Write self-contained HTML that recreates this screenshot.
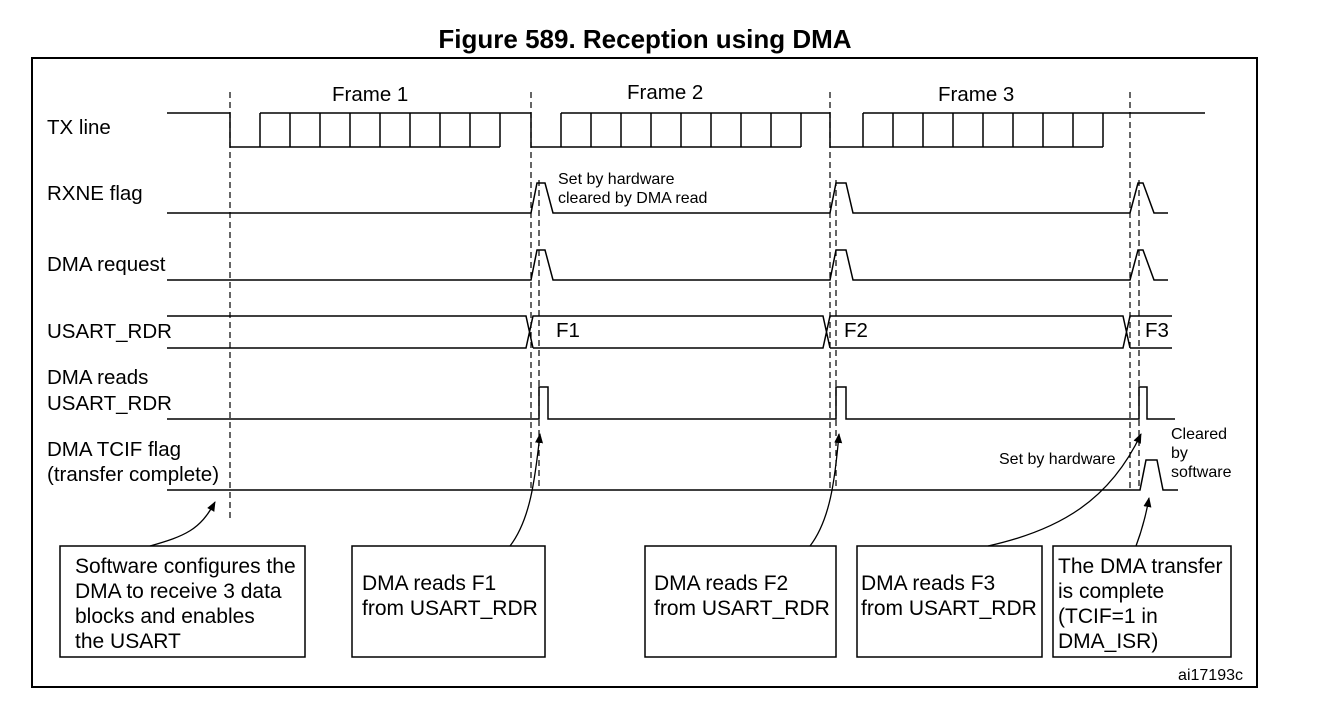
<!DOCTYPE html>
<html><head><meta charset="utf-8"><style>
body{margin:0;background:#fff;}
svg{display:block;font-family:"Liberation Sans",Arial,sans-serif;}
</style></head><body>
<svg width="1320" height="704" viewBox="0 0 1320 704" xmlns="http://www.w3.org/2000/svg">
<defs><marker id="ah" markerWidth="10" markerHeight="10" refX="9" refY="5" orient="auto" markerUnits="userSpaceOnUse"><path d="M0,1 L10,5 L0,9 z" fill="#000"/></marker></defs>
<text x="645" y="48" font-size="26" font-weight="bold" text-anchor="middle">Figure 589. Reception using DMA</text>
<rect x="32" y="58" width="1225" height="629" fill="none" stroke="#000" stroke-width="2"/>
<g font-size="20.5" fill="#000">
<text x="47" y="134">TX line</text>
<text x="47" y="200">RXNE flag</text>
<text x="47" y="271">DMA request</text>
<text x="47" y="338">USART_RDR</text>
<text x="47" y="384">DMA reads</text>
<text x="47" y="410">USART_RDR</text>
<text x="47" y="456">DMA TCIF flag</text>
<text x="47" y="481">(transfer complete)</text>
<text x="332" y="101">Frame 1</text>
<text x="627" y="99">Frame 2</text>
<text x="938" y="101">Frame 3</text>
<text x="556" y="337">F1</text>
<text x="844" y="337">F2</text>
<text x="1145" y="337">F3</text>
</g>
<g font-size="16">
<text x="558" y="184">Set by hardware</text>
<text x="558" y="203">cleared by DMA read</text>
<text x="999" y="464">Set by hardware</text>
<text x="1171" y="439">Cleared</text>
<text x="1171" y="458">by</text>
<text x="1171" y="477">software</text>
<text x="1243" y="680" text-anchor="end">ai17193c</text>
</g>
<g stroke="#000" stroke-width="1.5" fill="none">
<path d="M167,113 H230 V147 H500 M260,113 H531 V147 H801 M561,113 H830 V147 H1103 M863,113 H1205"/>
<path d="M260,113V147 M290,113V147 M320,113V147 M350,113V147 M380,113V147 M410,113V147 M440,113V147 M470,113V147 M500,113V147"/>
<path d="M561,113V147 M591,113V147 M621,113V147 M651,113V147 M681,113V147 M711,113V147 M741,113V147 M771,113V147 M801,113V147"/>
<path d="M863,113V147 M893,113V147 M923,113V147 M953,113V147 M983,113V147 M1013,113V147 M1043,113V147 M1073,113V147 M1103,113V147"/>
<path d="M167,213 H531 L537,183 H545 L553,213 H830 L836,183 H846 L853,213 H1130 L1138,183 H1143 L1154,213 H1168"/>
<path d="M167,280 H531 L537,250 H545 L553,280 H830 L836,250 H846 L853,280 H1130 L1138,250 H1143 L1154,280 H1168"/>
<path d="M167,316 H526 L533,348 M167,348 H526 L533,316 H823 L830,348 M533,348 H823 L830,316 H1123 L1130,348 M830,348 H1123 L1130,316 H1172 M1130,348 H1172"/>
<path d="M167,419 H539 V387 H548 V419 H836 V387 H846 V419 H1139 V387 H1147 V419 H1175"/>
<path d="M167,490 H1140 L1146,460 H1157 L1163,490 H1178"/>
<rect x="60" y="546" width="245" height="111"/>
<rect x="352" y="546" width="193" height="111"/>
<rect x="645" y="546" width="191" height="111"/>
<rect x="857" y="546" width="185" height="111"/>
<rect x="1053" y="546" width="178" height="111"/>
</g>
<g stroke="#000" stroke-width="1.2" stroke-dasharray="6,4" fill="none">
<path d="M230,92V520 M531,92V490 M539,180V490 M830,92V490 M836,180V490 M1130,92V490 M1139,180V490"/>
</g>
<g stroke="#000" stroke-width="1.3" fill="none" marker-end="url(#ah)">
<path d="M150,546 C185,536 200,530 215,502"/>
<path d="M510,546 C530,520 535,480 540,434"/>
<path d="M810,546 C830,520 835,480 839,434"/>
<path d="M988,546 C1060,530 1110,500 1141,434"/>
<path d="M1136,546 C1142,530 1146,515 1149,498"/>
</g>
<g font-size="21">
<text x="75" y="573">Software configures the</text>
<text x="75" y="598">DMA to receive 3 data</text>
<text x="75" y="623">blocks and enables</text>
<text x="75" y="648">the USART</text>
<text x="362" y="590">DMA reads F1</text>
<text x="362" y="615">from USART_RDR</text>
<text x="654" y="590">DMA reads F2</text>
<text x="654" y="615">from USART_RDR</text>
<text x="861" y="590">DMA reads F3</text>
<text x="861" y="615">from USART_RDR</text>
<text x="1058" y="573">The DMA transfer</text>
<text x="1058" y="598">is complete</text>
<text x="1058" y="623">(TCIF=1 in</text>
<text x="1058" y="648">DMA_ISR)</text>
</g>
</svg>
</body></html>
